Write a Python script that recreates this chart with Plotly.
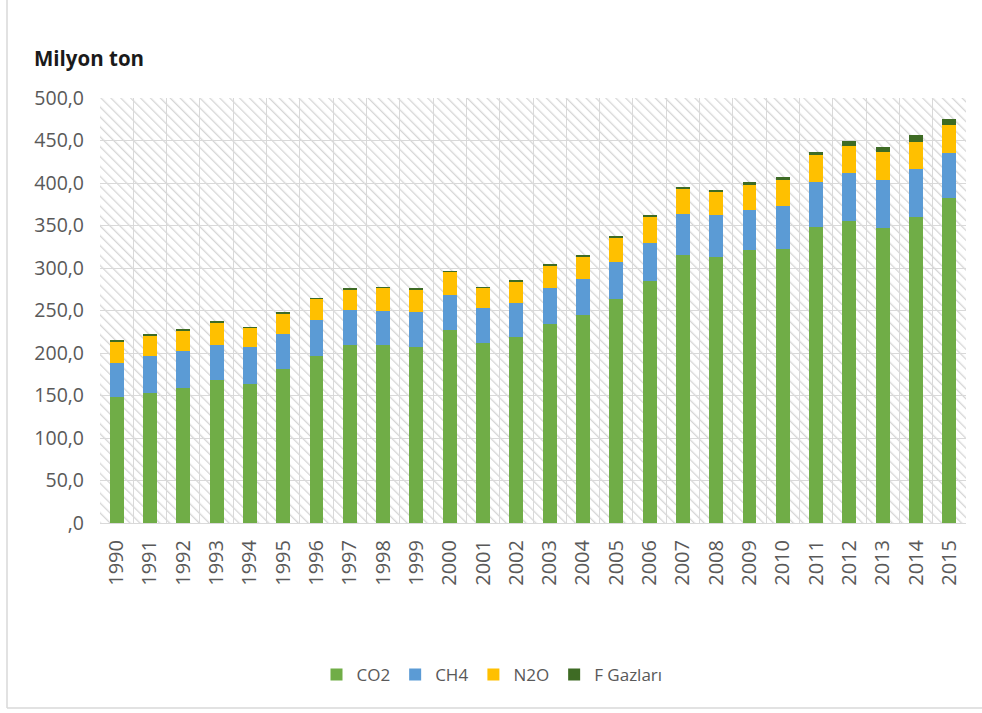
import base64
import plotly.graph_objects as go

# Sera gazı emisyonları (milyon ton CO2 eşdeğeri), 1990-2015
years = [str(y) for y in range(1990, 2016)]
co2 = [148.5, 153.0, 159.0, 168.0, 164.1, 181.4, 197.0, 210.0, 209.6, 207.3,
       226.8, 211.2, 219.4, 234.7, 244.5, 263.7, 284.5, 315.5, 313.2, 320.6,
       321.8, 348.0, 355.0, 347.3, 359.8, 382.6]
ch4 = [40.0, 42.9, 42.8, 41.2, 42.4, 40.4, 41.6, 40.4, 40.4, 41.2,
       42.0, 42.0, 39.6, 42.0, 42.0, 43.9, 45.5, 47.8, 48.6, 48.2,
       50.9, 53.0, 57.0, 56.0, 56.1, 52.9]
n2o = [25.5, 24.9, 24.9, 26.9, 23.3, 24.9, 25.3, 24.8, 26.6, 26.6,
       26.5, 23.4, 25.0, 26.4, 26.7, 27.9, 30.0, 29.9, 27.7, 29.9,
       30.5, 31.4, 31.8, 32.9, 32.9, 33.3]
f_gas = [0.5, 0.5, 0.6, 0.6, 0.6, 0.6, 0.6, 0.7, 0.8, 0.8,
         0.9, 0.8, 0.9, 1.0, 1.1, 1.2, 1.4, 1.8, 2.0, 2.3,
         3.8, 4.6, 5.4, 6.4, 7.1, 6.7]

series_names = ["CO2", "CH4", "N2O", "F Gazları"]
series_values = [co2, ch4, n2o, f_gas]
series_colors = ["#70AD47", "#5B9BD5", "#FFC000", "#3E6B24"]

y_ticks = list(range(0, 501, 50))
y_ticktext = [",0" if v == 0 else f"{v},0" for v in y_ticks]

W, H = 982, 713
L, R, T, B = 100, 16, 98, 190
PW, PH = W - L - R, H - T - B

FONT = "Open Sans"
GRAY = "#595959"
GRID = "#d9d9d9"

fig = go.Figure()
for name, vals, col in zip(series_names, series_values, series_colors):
    fig.add_trace(go.Bar(x=years, y=vals, name=name, marker_color=col,
                         marker_line_width=0))

# diagonal hatch behind the plot area
svg = f"""<svg xmlns='http://www.w3.org/2000/svg' width='{PW}' height='{PH}'>
<defs><pattern id='h' width='7' height='7' patternUnits='userSpaceOnUse' patternTransform='rotate(-45)'>
<rect width='7' height='7' fill='white'/>
<line x1='0' y1='0' x2='0' y2='7' stroke='#d6d6d6' stroke-width='2.6'/>
</pattern></defs>
<rect width='{PW}' height='{PH}' fill='url(#h)'/></svg>"""
src = "data:image/svg+xml;base64," + base64.b64encode(svg.encode()).decode()


def px_x(px):
    return (px - L) / PW


def px_y(py):
    return (H - B - py) / PH


fig.update_layout(
    width=W, height=H,
    margin=dict(l=L, r=R, t=T, b=B),
    barmode="stack",
    bargap=0.58,
    paper_bgcolor="white",
    plot_bgcolor="rgba(0,0,0,0)",
    font=dict(family=FONT, color=GRAY, size=18),
    images=[dict(source=src, xref="paper", yref="paper", x=0, y=1,
                 sizex=1, sizey=1, xanchor="left", yanchor="top",
                 sizing="stretch", layer="below")],
    xaxis=dict(type="category", tickson="boundaries", showgrid=True,
               gridcolor=GRID, gridwidth=1, ticks="", tickangle=-90,
               showline=True, linecolor=GRID, linewidth=1,
               ticklabelstandoff=8,
               tickfont=dict(size=20, color=GRAY), zeroline=False),
    yaxis=dict(range=[0, 500], tickvals=y_ticks, ticktext=y_ticktext,
               showgrid=True, gridcolor=GRID, gridwidth=1, ticks="",
               zeroline=False, showline=False, ticklabelstandoff=15,
               tickfont=dict(size=19.5, color=GRAY)),
    legend=dict(orientation="h", x=px_x(492), xanchor="center",
                y=px_y(675), yanchor="middle",
                font=dict(size=17, color=GRAY), traceorder="normal",
                itemwidth=30, bgcolor="rgba(0,0,0,0)"),
    showlegend=True,
    annotations=[dict(text="<b>Milyon ton</b>", xref="paper", yref="paper",
                      x=px_x(32), y=px_y(58), xanchor="left", yanchor="middle",
                      showarrow=False,
                      font=dict(size=20.5, color="#1a1a1a", family=FONT))],
    shapes=[
        dict(type="line", xref="paper", yref="paper",
             x0=px_x(7), x1=px_x(7), y0=px_y(0), y1=px_y(708),
             line=dict(color=GRID, width=1.5)),
        dict(type="line", xref="paper", yref="paper",
             x0=px_x(7), x1=px_x(982), y0=px_y(708), y1=px_y(708),
             line=dict(color=GRID, width=1.5)),
    ],
)

fig.write_html("out.html")
